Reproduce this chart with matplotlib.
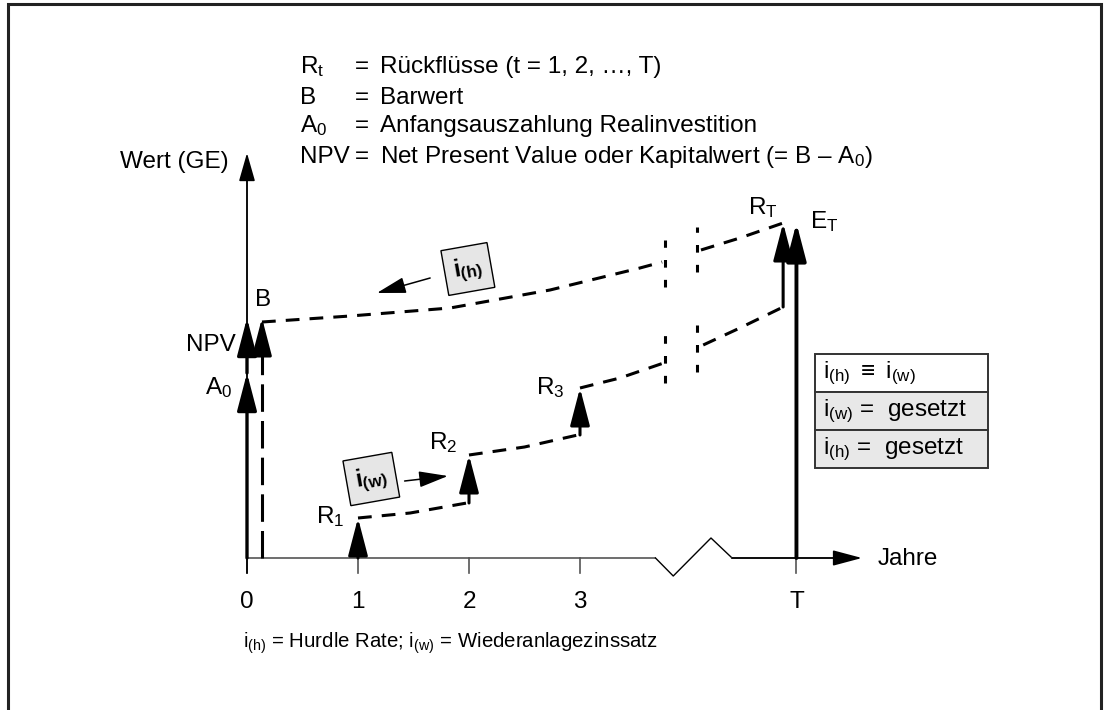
import matplotlib
matplotlib.use('Agg')
import matplotlib.pyplot as plt
from matplotlib.patches import Rectangle

# Schrift
FONT = 'Liberation Sans'
plt.rcParams['font.family'] = [FONT, 'DejaVu Sans']
plt.rcParams['mathtext.fontset'] = 'custom'
plt.rcParams['mathtext.rm'] = FONT
plt.rcParams['mathtext.it'] = FONT + ':italic'
plt.rcParams['mathtext.bf'] = FONT + ':bold'
FS = 17.5

# Achsen / Zeitpunkte
tick_x = [0, 1, 2, 3, 4.95]
tick_labels = ['0', '1', '2', '3', 'T']
x_break = [3.68, 3.84, 4.18, 4.37]
y_break = [0, -1.8, 2.0, 0]

# Werte am Zeitpunkt 0
a0 = 18.5
b_val = 24.0
x_b = 0.135

# Aufzinsung mit Hurdle Rate (obere Kurve), vor und nach dem Bruch
up1_x = [0.135, 0.93, 1.83, 2.73, 3.54, 3.74]
up1_y = [23.6, 24.2, 25.0, 26.8, 29.0, 29.6]
up2_x = [4.09, 4.44, 4.83]
up2_y = [30.8, 32.0, 33.5]

# Wiederanlage (untere Kurve), Segmente zwischen den Rückflüssen
lo_segs = [
    ([1.0, 1.47, 1.98], [4.0, 4.5, 5.5]),
    ([2.0, 2.5, 2.98], [10.3, 11.1, 12.3]),
    ([3.0, 3.36, 3.78], [17.0, 18.0, 19.6]),
    ([4.11, 4.44, 4.83], [21.3, 23.0, 25.1]),
]
r_x = [1, 2, 3]
r_base = [0, 5.5, 12.3]
r_top = [4.0, 10.3, 17.0]
rT_x, rT_base, rT_top = 4.83, 25.1, 33.5
eT_x, eT_top = 4.95, 33.5

# Bruchmarken
brk_x = [3.77, 4.05, 3.77, 4.05]
brk_lo = [27.1, 28.6, 17.5, 18.6]
brk_hi = [31.8, 33.1, 23.3, 23.3]

PX, PY, X0, Y0 = 111.0, 10.0, 247.0, 558.0
fig = plt.figure(figsize=(11.06, 7.1), dpi=100)
ax = fig.add_axes([0, 0, 1, 1])
ax.set_xlim(-X0 / PX, (1106 - X0) / PX)
ax.set_ylim((Y0 - 710) / PY, Y0 / PY)
ax.axis('off')

# Rahmen
fig.patches.append(Rectangle((8 / 1106, -0.05), (1101 - 8) / 1106, 1.05 - 4 / 710,
                             transform=fig.transFigure, fill=False, lw=2.2, ec='#222222'))


def arrow(x0, y0, x1, y1, lw=2.2, hl=2.3, hw=0.6, color='black'):
    ax.annotate('', xy=(x1, y1), xytext=(x0, y0),
                arrowprops=dict(arrowstyle=f'-|>,head_length={hl},head_width={hw}',
                                lw=lw, color=color, shrinkA=0, shrinkB=0,
                                mutation_scale=10))


gray = '#555555'
# Y-Achse
arrow(0, -1.5, 0, 40.5, lw=1.2, hl=1.75, hw=0.5, color='black')
ax.plot([0, 0], [-1.5, 38], color=gray, lw=1.2)
# X-Achse mit Bruch
ax.plot([0, x_break[0]], [0, 0], color=gray, lw=1.2)
ax.plot(x_break, y_break, color='black', lw=1.0)
arrow(x_break[-1], 0, 5.54, 0, lw=1.2, hl=1.8, hw=0.48)
ax.plot([x_break[-1], 5.3], [0, 0], color=gray, lw=1.2)
for x, lab in zip(tick_x, tick_labels):
    ax.plot([x, x], [-1.5, 0], color=gray, lw=1.2)
    ax.text(x, -4.4, lab, ha='center', va='center', fontsize=FS)

ax.text(5.68, -0.1, 'Jahre', ha='left', va='center', fontsize=FS)
ax.text(-0.17, 39.6, 'Wert (GE)', ha='right', va='center', fontsize=FS)

# Zeitpunkt 0
arrow(0, 0, 0, a0, lw=2.4)
arrow(0, a0, 0, b_val, lw=2.4)
ax.plot([x_b, x_b], [0, 20.6], color='black', lw=2.2, dashes=(9, 3))
arrow(x_b, 20.5, x_b, b_val, lw=2.2)
ax.text(0.144, 25.8, 'B', ha='center', va='center', fontsize=FS)
ax.text(-0.1, 21.3, 'NPV', ha='right', va='center', fontsize=FS)
ax.text(-0.13, 17.0, r'A$_\mathrm{0}$', ha='right', va='center', fontsize=FS)

# Kurven
dash = (4.5, 3.3)
ax.plot(up1_x, up1_y, color='black', lw=2.2, dashes=dash)
ax.plot(up2_x, up2_y, color='black', lw=2.2, dashes=dash)
for sx, sy in lo_segs:
    ax.plot(sx, sy, color='black', lw=2.2, dashes=dash)
for bx, b0, b1 in zip(brk_x, brk_lo, brk_hi):
    ax.plot([bx, bx], [b0, b1], color='black', lw=2.2, dashes=(2.5, 4))

# Rückflüsse
for x, y0, y1 in zip(r_x, r_base, r_top):
    arrow(x, y0, x, y1, lw=2.2)
arrow(rT_x, rT_base, rT_x, rT_top, lw=2.2)
arrow(eT_x, 0, eT_x, eT_top, lw=2.8)

ax.text(0.75, 4.1, r'R$_\mathrm{1}$', ha='center', va='center', fontsize=FS)
ax.text(1.77, 11.5, r'R$_\mathrm{2}$', ha='center', va='center', fontsize=FS)
ax.text(2.73, 17.0, r'R$_\mathrm{3}$', ha='center', va='center', fontsize=FS)
ax.text(4.65, 35.0, r'R$_\mathrm{T}$', ha='center', va='center', fontsize=FS)
ax.text(5.07, 33.6, r'E$_\mathrm{T}$', ha='left', va='center', fontsize=FS)

# Zinssatz-Kästchen
box = dict(boxstyle='square,pad=0.35', fc='#e6e6e6', ec='black', lw=1.0)
ax.text(1.99, 28.9, r'$\mathbf{i_{(h)}}$', rotation=10, ha='center', va='center',
        fontsize=FS, bbox=box)
arrow(1.65, 28.0, 1.17, 26.5, lw=1.1, hl=1.8, hw=0.5)
ax.text(1.12, 7.9, r'$\mathbf{i_{(w)}}$', rotation=10, ha='center', va='center',
        fontsize=FS, bbox=box)
arrow(1.42, 7.7, 1.81, 8.2, lw=1.1, hl=1.8, hw=0.5)

# Tabelle rechts
tab_rows = [r'i$_\mathrm{(h)}$ $\equiv$ i$_\mathrm{(w)}$', r'i$_\mathrm{(w)}$ =  gesetzt',
            r'i$_\mathrm{(h)}$ =  gesetzt']
tab_fill = ['white', '#e8e8e8', '#e8e8e8']
tab_left, tab_right, tab_top, row_h = 5.117, 6.68, 20.4, 3.8
for i, (lab, fc) in enumerate(zip(tab_rows, tab_fill)):
    y_top = tab_top - i * row_h
    ax.add_patch(Rectangle((tab_left, y_top - row_h), tab_right - tab_left, row_h,
                           fc=fc, ec='#333333', lw=1.4))
    ax.text(tab_left + 0.07, y_top - row_h / 2, lab, ha='left', va='center', fontsize=FS)

# Legende oben
leg_lab = [r'R$_\mathrm{t}$', 'B', r'A$_\mathrm{0}$', 'NPV']
leg_txt = ['Rückflüsse (t = 1, 2, …, T)', 'Barwert', 'Anfangsauszahlung Realinvestition',
           'Net Present Value oder Kapitalwert (= B – A$_\\mathrm{0}$)']
leg_y = [49.1, 46.0, 43.2, 40.1]
for lab, txt, y in zip(leg_lab, leg_txt, leg_y):
    ax.text(0.477, y, lab, ha='left', va='center', fontsize=FS)
    ax.text(0.973, y, '=', ha='left', va='center', fontsize=FS)
    ax.text(1.198, y, txt, ha='left', va='center', fontsize=FS)

ax.text(-0.036, -8.5, r'i$_\mathrm{(h)}$ = Hurdle Rate; i$_\mathrm{(w)}$ = Wiederanlagezinssatz',
        ha='left', va='center', fontsize=14.7)

fig.savefig('out.png', dpi=100)
